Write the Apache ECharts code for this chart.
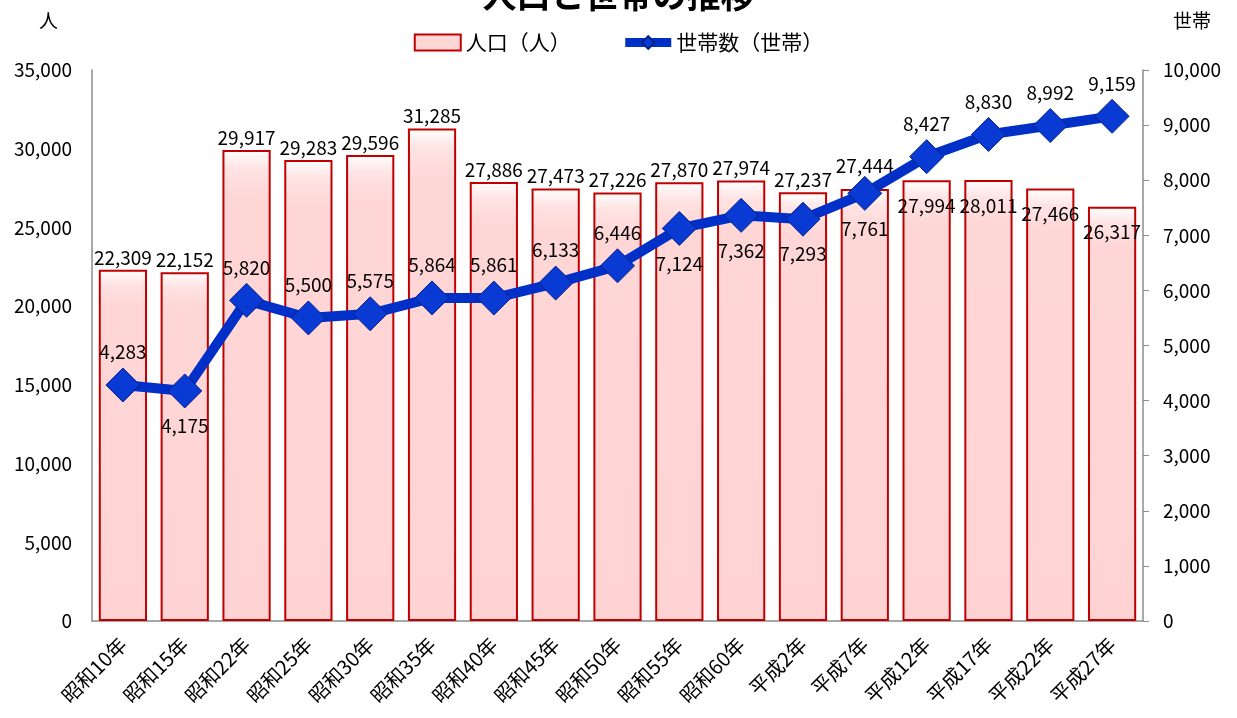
<!DOCTYPE html>
<html>
<head>
<meta charset="utf-8">
<script src="https://cdn.jsdelivr.net/npm/echarts@6/dist/echarts.min.js"></script>
<style>
  html, body { margin: 0; padding: 0; background: #fff; }
  #chartWrapper { width: 1237px; height: 718px; }
</style>
</head>
<body>
<div id="chartWrapper"></div>
<script>
let categories = ['昭和10年', '昭和15年', '昭和22年', '昭和25年', '昭和30年', '昭和35年', '昭和40年', '昭和45年', '昭和50年',
    '昭和55年', '昭和60年', '平成2年', '平成7年', '平成12年', '平成17年', '平成22年', '平成27年'];
let population = [22309, 22152, 29917, 29283, 29596, 31285, 27886, 27473, 27226, 27870, 27974, 27237, 27444, 27994, 28011, 27466, 26317];
let households = [4283, 4175, 5820, 5500, 5575, 5864, 5861, 6133, 6446, 7124, 7362, 7293, 7761, 8427, 8830, 8992, 9159];
// 世帯数ラベルの上下 (1 = 上, 0 = 下)
let hhLabelAbove = [1, 0, 1, 1, 1, 1, 1, 1, 1, 0, 0, 0, 0, 1, 1, 1, 1];
// 人口ラベルを棒の内側に置くもの
let popLabelInside = [0, 0, 0, 0, 0, 0, 0, 0, 0, 0, 0, 0, 0, 1, 1, 1, 1];

let font = 'Noto Sans CJK JP';
let myChart = echarts.init(document.getElementById('chartWrapper'));

let barFill = {
    type: 'linear', x: 0, y: 0, x2: 0, y2: 1,
    colorStops: [
        { offset: 0, color: '#ffffff' },
        { offset: 0.04, color: '#ffe3e3' },
        { offset: 0.1, color: '#ffd6d6' },
        { offset: 1, color: '#ffd3d3' }
    ]
};

let barData = population.map(function (v, i) {
    let lbl;
    if (popLabelInside[i]) {
        lbl = { position: 'insideTop', distance: 16 };
    } else {
        // 平成7年は菱形と重なるので少し上へ
        lbl = { position: 'top', distance: i === 12 ? 14 : 3 };
    }
    return { value: v, label: lbl };
});
let lineData = households.map(function (v, i) {
    return {
        value: v,
        label: { position: hhLabelAbove[i] ? 'top' : 'bottom', distance: hhLabelAbove[i] ? 6 : 8 }
    };
});

let numFmt = function (p) { return p.value.toLocaleString('en-US'); };
let tickFmt = function (v) { return v.toLocaleString('en-US'); };

let option = {
    animation: false,
    textStyle: { fontFamily: font },
    title: {
        text: '人口と世帯の推移',
        left: 'center',
        top: -27,
        textStyle: { fontSize: 34, fontWeight: 'bold', color: '#000', fontFamily: font }
    },
    legend: {
        top: 27,
        left: 'center',
        itemGap: 50,
        textStyle: { fontSize: 21, color: '#000', fontFamily: font },
        data: [
            { name: '人口（人）', icon: 'rect', itemStyle: { color: '#ffd6d6', borderColor: '#c00000', borderWidth: 2 } },
            { name: '世帯数（世帯）', lineStyle: { width: 9, color: '#0030c8' } }
        ],
        itemWidth: 46,
        itemHeight: 16
    },
    grid: { left: 92, right: 94, top: 70, bottom: 97 },
    xAxis: {
        type: 'category',
        data: categories,
        axisLine: { lineStyle: { color: '#8c8c8c', width: 1.5 } },
        axisTick: { show: false },
        axisLabel: { rotate: 45, fontSize: 20, color: '#000', interval: 0, margin: 20 }
    },
    yAxis: [
        {
            type: 'value', min: 0, max: 35000, interval: 5000,
            name: '人', nameLocation: 'end', nameGap: 40,
            nameTextStyle: { fontSize: 19, color: '#000', align: 'right', padding: [0, 34, 0, 0] },
            axisLine: { show: true, lineStyle: { color: '#8c8c8c', width: 1.5 } },
            axisTick: { show: false },
            splitLine: { show: false },
            axisLabel: { fontSize: 19, color: '#000', margin: 20, formatter: tickFmt }
        },
        {
            type: 'value', min: 0, max: 10000, interval: 1000,
            name: '世帯', nameLocation: 'end', nameGap: 40,
            nameTextStyle: { fontSize: 19, color: '#000', align: 'left', padding: [0, 0, 0, 30] },
            axisLine: { show: true, lineStyle: { color: '#8c8c8c', width: 1.5 } },
            axisTick: { show: true, length: 6, lineStyle: { color: '#8c8c8c' } },
            splitLine: { show: false },
            axisLabel: { fontSize: 19, color: '#000', margin: 20, formatter: tickFmt }
        }
    ],
    series: [
        {
            name: '人口（人）',
            type: 'bar',
            yAxisIndex: 0,
            barCategoryGap: '22%',
            data: barData,
            itemStyle: { color: barFill, borderColor: '#c00000', borderWidth: 2 },
            label: { show: true, fontSize: 19, color: '#000', formatter: numFmt }
        },
        {
            name: '世帯数（世帯）',
            type: 'line',
            yAxisIndex: 1,
            data: lineData,
            symbol: 'diamond',
            symbolSize: 34,
            lineStyle: { color: '#0030c8', width: 10 },
            itemStyle: { color: '#0a3ad4', borderColor: '#06238a', borderWidth: 1 },
            label: { show: true, fontSize: 19, color: '#000', formatter: numFmt },
            z: 5
        }
    ]
};

myChart.setOption(option);
</script>
</body>
</html>
